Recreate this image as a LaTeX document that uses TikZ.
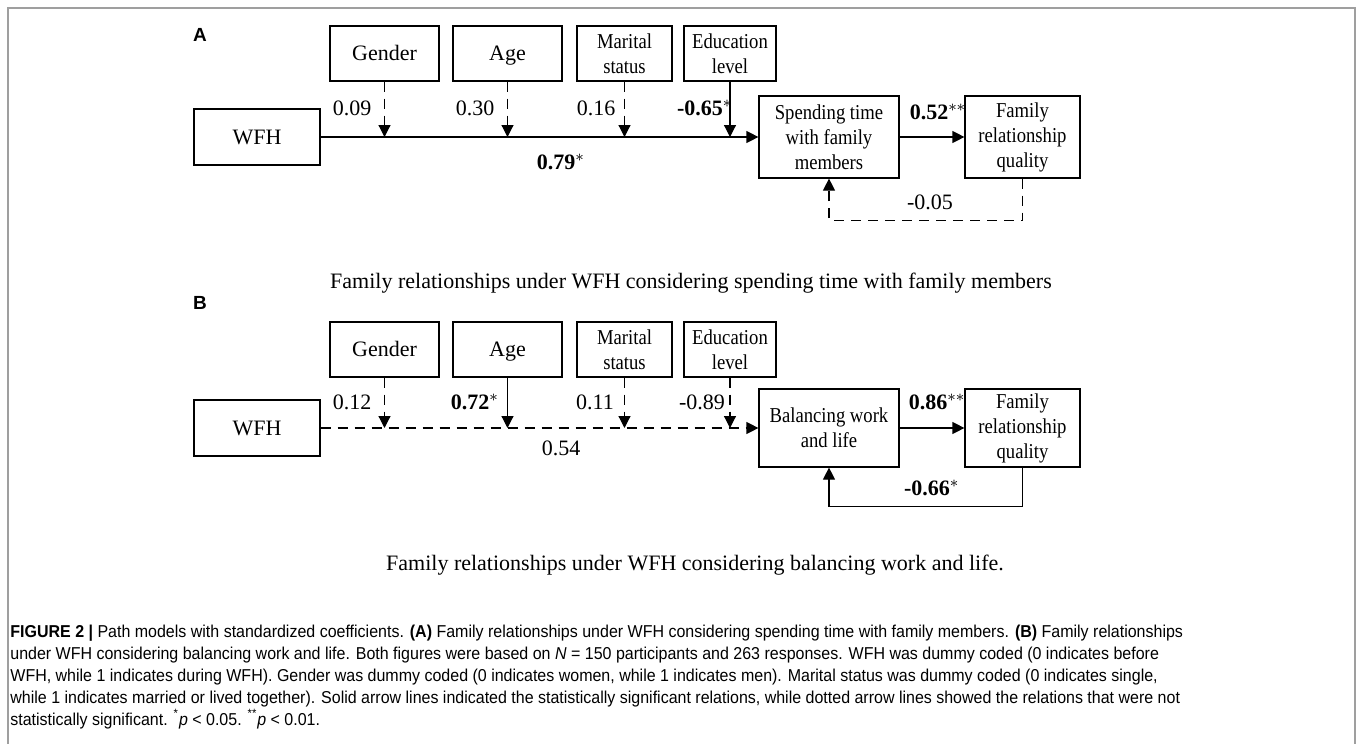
\documentclass[tikz,border=0pt]{standalone}
\usepackage{fontspec}
\setmainfont{Liberation Serif}
\newfontfamily\boxfont[FakeStretch=0.88]{Liberation Serif}
\newfontfamily\capfont[FakeStretch=0.93]{Liberation Sans}
\newfontfamily\panelfont{Liberation Sans}
\usepackage{tikz}
\usetikzlibrary{arrows.meta,calc,positioning}
\tikzset{
  box/.style={draw, line width=0.6pt, inner sep=0pt, align=center, font=\boxfont\fontsize{10.6}{12.5}\selectfont},
  onebox/.style={box, text height=7.3pt, text depth=0pt, font=\rmfamily\fontsize{11}{12.5}\selectfont},
  modbox/.style={box, minimum width=#1, minimum height=27.5pt},
  coef/.style={inner sep=0pt, text height=7.4pt, text depth=0pt, font=\fontsize{11}{12.5}\selectfont},
  sig/.style={line width=0.6pt, -{Triangle[length=6pt,width=6pt]}},
  nsig/.style={sig, dash pattern=on 5pt off 3.5pt},
  paneltitle/.style={inner sep=0pt, font=\fontsize{11}{13}\selectfont},
  panelmark/.style={inner sep=0pt, font=\panelfont\bfseries\fontsize{9.5}{11}\selectfont}
}
\begin{document}
\begin{tikzpicture}[x=0.5pt,y=-0.5pt]
\useasboundingbox (0,0) rectangle (1357,744);
\draw[gray!75, line width=0.8pt] (8,744) -- (8,8) -- (1355,8) -- (1355,744);

\node[panelmark] (markA) at (200,35) {A};
\node[modbox=54.5pt, onebox] (genA) at (384.5,53.5) {Gender};
\node[modbox=54.5pt, onebox] (ageA) at (507.5,53.5) {Age};
\node[modbox=47.5pt] (marA) at (624.5,53.5) {Marital\\status};
\node[modbox=46pt] (eduA) at (730,53.5) {Education\\level};
\node[box, onebox, minimum width=63pt, minimum height=28pt] (wfhA) at (257,137) {WFH};
\node[box, minimum width=70pt, minimum height=41pt] (spdA) at (829,137) {Spending time\\with family\\members};
\node[box, minimum width=57.5pt, minimum height=41pt] (famA) at (1022.5,137) {Family\\relationship\\quality};
\draw[sig] (wfhA.east) -- (spdA.west);
\draw[sig] (spdA.east) -- (famA.west);
\draw[nsig] (genA.south) -- (genA.south |- wfhA.east);
\draw[nsig] (ageA.south) -- (ageA.south |- wfhA.east);
\draw[nsig] (marA.south) -- (marA.south |- wfhA.east);
\draw[sig] (eduA.south) -- (eduA.south |- wfhA.east);
\draw[nsig] (famA.south) -- ++(0,42) -| (spdA.south);
\node[coef] (cgenA) at (352,108) {0.09};
\node[coef] (cageA) at (475,108) {0.30};
\node[coef] (cmarA) at (596,108) {0.16};
\node[coef] (ceduA) at (700,108) {\textbf{-0.65}\rlap{$^*$}};
\node[coef] (cwfhA) at (556,162) {\textbf{0.79}\rlap{$^*$}};
\node[coef] (cspdA) at (929,112) {\textbf{0.52}\rlap{$^{**}$}};
\node[coef] (cfamA) at (930,202) {-0.05};
\node[paneltitle] (titleA) at (691,283) {Family relationships under WFH considering spending time with family members};

\node[panelmark] (markB) at (200,303) {B};
\node[modbox=54.5pt, onebox] (genB) at (384.5,349.5) {Gender};
\node[modbox=54.5pt, onebox] (ageB) at (507.5,349.5) {Age};
\node[modbox=47.5pt] (marB) at (624.5,349.5) {Marital\\status};
\node[modbox=46pt] (eduB) at (730,349.5) {Education\\level};
\node[box, onebox, minimum width=63pt, minimum height=28pt] (wfhB) at (257,428) {WFH};
\node[box, minimum width=70pt, minimum height=39pt] (balB) at (829,428) {Balancing work\\and life};
\node[box, minimum width=57.5pt, minimum height=39pt] (famB) at (1022.5,428) {Family\\relationship\\quality};
\draw[nsig] (wfhB.east) -- (balB.west);
\draw[sig] (balB.east) -- (famB.west);
\draw[nsig] (genB.south) -- (genB.south |- wfhB.east);
\draw[sig] (ageB.south) -- (ageB.south |- wfhB.east);
\draw[nsig] (marB.south) -- (marB.south |- wfhB.east);
\draw[nsig] (eduB.south) -- (eduB.south |- wfhB.east);
\draw[sig] (famB.south) -- ++(0,39) -| (balB.south);
\node[coef] (cgenB) at (352,402) {0.12};
\node[coef] (cageB) at (470,402) {\textbf{0.72}\rlap{$^*$}};
\node[coef] (cmarB) at (595,402) {0.11};
\node[coef] (ceduB) at (702,402) {-0.89};
\node[coef] (cwfhB) at (561,448) {0.54};
\node[coef] (cbalB) at (928,402) {\textbf{0.86}\rlap{$^{**}$}};
\node[coef] (cfamB) at (927,488) {\textbf{-0.66}\rlap{$^*$}};
\node[paneltitle] (titleB) at (695,565) {Family relationships under WFH considering balancing work and life.};

\node[anchor=base west, align=left, inner sep=0pt, font=\capfont\fontsize{8.6}{11}\selectfont] (caption) at (10,725) {\textbf{FIGURE 2 |} Path models with standardized coefficients. \textbf{(A)} Family relationships under WFH considering spending time with family members. \textbf{(B)} Family relationships\\
under WFH considering balancing work and life. Both figures were based on {\itshape N} = 150 participants and 263 responses. WFH was dummy coded (0 indicates before\\
WFH, while 1 indicates during WFH). Gender was dummy coded (0 indicates women, while 1 indicates men). Marital status was dummy coded (0 indicates single,\\
while 1 indicates married or lived together). Solid arrow lines indicated the statistically significant relations, while dotted arrow lines showed the relations that were not\\
statistically significant. \textsuperscript{*}{\itshape p} < 0.05. \textsuperscript{**}{\itshape p} < 0.01.};
\end{tikzpicture}
\end{document}
